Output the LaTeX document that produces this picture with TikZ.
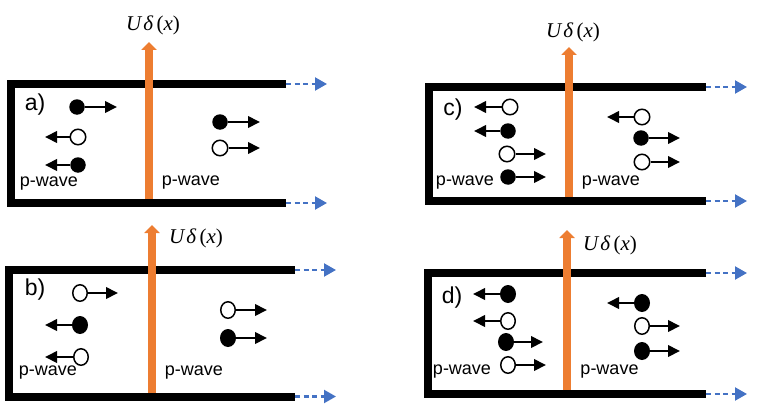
\documentclass[tikz,border=0pt]{standalone}
\usepackage{fontspec}
\setmainfont{Liberation Sans}
\newfontfamily\serifit{Liberation Serif}
\usetikzlibrary{arrows.meta,shapes.geometric}
\definecolor{orng}{HTML}{ED7D31}
\definecolor{blu}{HTML}{4472C4}
\tikzset{
  wall/.style={line width=8pt, line join=miter, line cap=butt},
  pot/.style={orng, line width=8pt, -{Triangle[width=15pt,length=8pt]}},
  lead/.style={blu, line width=2.2pt, dash pattern=on 5pt off 3.5pt, -{Triangle[width=13pt,length=12pt]}},
  parr/.style={line width=2pt, -{Triangle[width=11.5pt,length=12pt]}},
  full/.style={circle, fill=black, minimum size=15.5pt, inner sep=0pt},
  hole/.style={circle, draw=black, line width=1.5pt, fill=white, minimum size=15.5pt, inner sep=0pt},
  fullb/.style={ellipse, fill=black, minimum width=16pt, minimum height=18pt, inner sep=0pt},
  holeb/.style={ellipse, draw=black, line width=1.5pt, fill=white, minimum width=14.5pt, minimum height=16.5pt, inner sep=0pt},
  lbl/.style={font=\fontsize{18}{20}\selectfont, inner sep=0pt},
  plbl/.style={font=\fontsize{23}{26}\selectfont, inner sep=0pt},
  ulbl/.style={font=\serifit\fontsize{21}{24}\selectfont, inner sep=0pt}
}
\newcommand{\ptcl}[5]{%
  \node[#4] (#1) at (#2,#3) {};
  \coordinate (#1t) at (#5,#3);
  \draw[parr] (#1) -- (#1t);
}
\newcommand{\panel}[9]{% prefix, left x, top y, bottom y, end x, orange x, tip y, label pos x, label pos y
  \coordinate (#1tl) at (#2,#3);
  \coordinate (#1bl) at (#2,#4);
  \coordinate (#1te) at (#5,#3);
  \coordinate (#1be) at (#5,#4);
  \coordinate (#1ta) at ({#5+41},#3);
  \coordinate (#1ba) at ({#5+41},#4);
  \draw[wall] (#1te) -- (#1tl) -- (#1bl) -- (#1be);
  \draw[lead] (#1te) -- (#1ta);
  \draw[lead] (#1be) -- (#1ba);
  \coordinate (#1ob) at (#6,{#4-4});
  \coordinate (#1ot) at (#6,#7);
  \draw[pot] (#1ob) -- (#1ot);
  \node[ulbl] (#1U) at (#8,#9) {\textit{U}\kern1pt\textit{δ}\hspace{3pt}(\textit{x})};
}
\begin{document}
\begin{tikzpicture}[x=1pt,y=-1pt]
\useasboundingbox (0,0) rectangle (763,412);
% panel a
\panel{a}{11}{84}{203}{286}{149}{42}{153}{25}
\node[plbl] (alab) at (35,105) {a)};
\node[lbl] (apl) at (49,184) {p-wave};
\node[lbl] (apr) at (191,183) {p-wave};
\ptcl{a1}{77}{107}{full}{117}
\ptcl{a2}{78}{137}{hole}{45}
\ptcl{a3}{78}{165}{full}{45}
\ptcl{a4}{220}{122}{full}{260}
\ptcl{a5}{220}{148}{hole}{260}
% panel b
\panel{b}{8.5}{270}{396.5}{295}{152}{225}{196}{238}
\node[plbl] (blab) at (35,290) {b)};
\node[lbl] (bpl) at (48,373) {p-wave};
\node[lbl] (bpr) at (194,373) {p-wave};
\ptcl{b1}{80}{293}{holeb}{118}
\ptcl{b2}{80}{325}{fullb}{45}
\ptcl{b3}{81}{357}{holeb}{45}
\ptcl{b4}{228}{310}{holeb}{267}
\ptcl{b5}{228}{338}{fullb}{267}
% panel c
\panel{c}{429}{87}{201}{706}{569}{47}{573}{32}
\node[plbl] (clab) at (453,110) {c)};
\node[lbl] (cpl) at (465,183) {p-wave};
\node[lbl] (cpr) at (611,183) {p-wave};
\ptcl{c1}{510}{107}{hole}{474}
\ptcl{c2}{508}{131}{full}{474}
\ptcl{c3}{507}{154}{hole}{546}
\ptcl{c4}{508}{177}{full}{546}
\ptcl{c5}{642}{117}{hole}{607}
\ptcl{c6}{641}{138}{full}{680}
\ptcl{c7}{642}{162}{hole}{680}
% panel d
\panel{d}{427.5}{273}{394}{706}{567}{230}{610}{245}
\node[plbl] (dlab) at (452,298) {d)};
\node[lbl] (dpl) at (462,372) {p-wave};
\node[lbl] (dpr) at (609.5,372) {p-wave};
\ptcl{d1}{508}{294}{fullb}{473}
\ptcl{d2}{508}{321}{holeb}{473}
\ptcl{d3}{506}{342}{fullb}{543}
\ptcl{d4}{508}{365}{holeb}{546}
\ptcl{d5}{642}{303}{fullb}{607}
\ptcl{d6}{642}{326}{holeb}{680}
\ptcl{d7}{642}{351}{fullb}{680}
\end{tikzpicture}
\end{document}
